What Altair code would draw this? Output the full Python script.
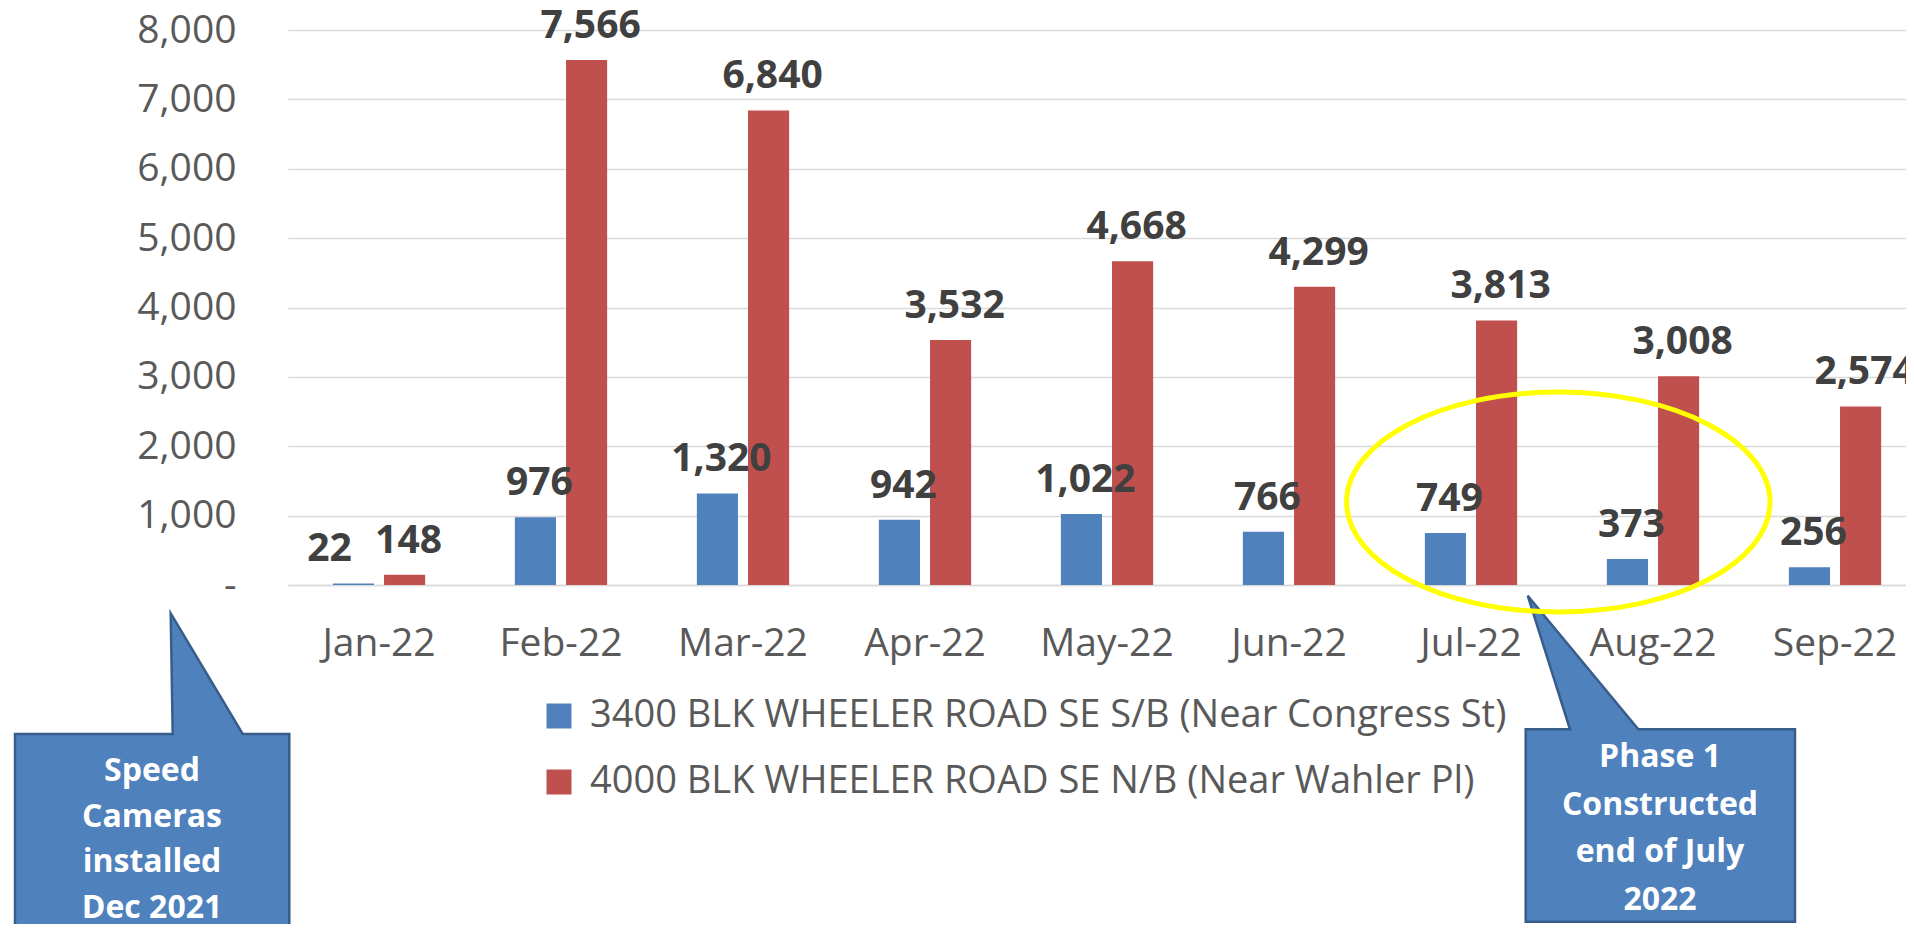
import altair as alt
import pandas as pd

# ---------------- data ----------------
months = ["Jan-22", "Feb-22", "Mar-22", "Apr-22", "May-22", "Jun-22", "Jul-22", "Aug-22", "Sep-22"]
series_names = [
    "3400 BLK WHEELER ROAD SE S/B (Near Congress St)",
    "4000 BLK WHEELER ROAD SE N/B (Near Wahler Pl)",
]
congress_st = [22, 976, 1320, 942, 1022, 766, 749, 373, 256]
wahler_pl = [148, 7566, 6840, 3532, 4668, 4299, 3813, 3008, 2574]
series_colors = ["#4F81BD", "#C0504D"]
y_ticks = [0, 1000, 2000, 3000, 4000, 5000, 6000, 7000, 8000]

left_note = ["Speed", "Cameras", "installed", "Dec 2021"]
right_note = ["Phase 1", "Constructed", "end of July", "2022"]

rows = []
for m, a, b in zip(months, congress_st, wahler_pl):
    rows.append({"month": m, "series": series_names[0], "value": a})
    rows.append({"month": m, "series": series_names[1], "value": b})
df = pd.DataFrame(rows)
one = pd.DataFrame({"k": [0]})

FONT = "Open Sans"
AXIS_GREY = "#595959"
GRID = "#D9D9D9"

x_enc = alt.X(
    "month:N",
    sort=months,
    scale=alt.Scale(range=[0, 1638], paddingInner=0.493, paddingOuter=0.2465),
    axis=alt.Axis(
        title=None, labelFontSize=39, labelColor=AXIS_GREY, labelFont=FONT,
        labelPadding=70, labelBaseline="alphabetic", labelAngle=0, ticks=False,
        domainColor=GRID, domainWidth=1.5, grid=False,
    ),
)
xoff = alt.XOffset("series:N", sort=series_names,
                   scale=alt.Scale(paddingInner=0.196, paddingOuter=0))
y_enc = alt.Y(
    "value:Q",
    scale=alt.Scale(domain=[0, 8000], nice=False),
    axis=alt.Axis(
        title=None, values=y_ticks,
        labelExpr="datum.value == 0 ? '-\u00a0\u00a0' : format(datum.value, ',')",
        labelFontSize=39, labelColor=AXIS_GREY, labelFont=FONT, labelPadding=52,
        ticks=False, domain=False, grid=True, gridColor=GRID, gridWidth=1.3,
    ),
)

bars = alt.Chart(df).mark_bar().encode(
    x=x_enc,
    xOffset=xoff,
    y=y_enc,
    color=alt.Color(
        "series:N",
        sort=series_names,
        scale=alt.Scale(domain=series_names, range=series_colors),
        legend=alt.Legend(
            title=None, orient="none", legendX=252, legendY=667, direction="vertical",
            symbolType="square", symbolSize=625, symbolStrokeWidth=0, symbolOpacity=1,
            labelFontSize=38, labelFont=FONT, labelColor=AXIS_GREY, labelOffset=12,
            labelLimit=2000, rowPadding=28, padding=0,
        ),
    ),
)

label_style = dict(font=FONT, fontWeight="bold", fontSize=39, color="#404040",
                   baseline="alphabetic", align="center", dy=-22)
first_label = (alt.datum.month == months[0]) & (alt.datum.series == series_names[0])

labels = alt.Chart(df).transform_filter(~first_label).mark_text(dx=4, **label_style).encode(
    x=x_enc, xOffset=xoff, y=y_enc, text=alt.Text("value:Q", format=","),
)
# the January label of the first series sits left of its bar in the original
labels_jan = alt.Chart(df).transform_filter(first_label).mark_text(dx=-24, **label_style).encode(
    x=x_enc, xOffset=xoff, y=y_enc, text=alt.Text("value:Q", format=","),
)

# callout shapes (custom symbol paths, size=4 -> 1 path unit = 1 px)
left_path = "M0,0 L157.7,0 L155.7,-120.7 L227.7,0 L274.3,0 L274.3,300 L0,300 Z"
right_path = "M0,0 L44.3,0 L2,-133.6 L112.6,0 L269.3,0 L269.3,192.4 L0,192.4 Z"
ellipse_path = "M-211.7,0 A211.7,110 0 1,1 211.7,0 A211.7,110 0 1,1 -211.7,0 Z"

left_box = alt.Chart(one).mark_point(
    shape=left_path, size=4, filled=True, fill="#4F81BD", stroke="#385D8A",
    strokeWidth=2.5, opacity=1, fillOpacity=1, strokeJoin="miter",
).encode(x=alt.value(-273), y=alt.value(704))

right_box = alt.Chart(one).mark_point(
    shape=right_path, size=4, filled=True, fill="#4F81BD", stroke="#385D8A",
    strokeWidth=2.5, opacity=1, fillOpacity=1, strokeJoin="miter",
).encode(x=alt.value(1237.7), y=alt.value(699.3))

left_text = alt.Chart(one).mark_text(
    text=left_note, lineHeight=45.5, font=FONT, fontWeight="bold", fontSize=32,
    color="white", align="center", baseline="alphabetic",
).encode(x=alt.value(-136), y=alt.value(751))

right_text = alt.Chart(one).mark_text(
    text=right_note, lineHeight=47.5, font=FONT, fontWeight="bold", fontSize=32,
    color="white", align="center", baseline="alphabetic",
).encode(x=alt.value(1372), y=alt.value(737.3))

ellipse = alt.Chart(one).mark_point(
    shape=ellipse_path, size=4, filled=False, stroke="#FFFF00", strokeWidth=5, opacity=1,
).encode(x=alt.value(1270.3), y=alt.value(472))

chart = alt.layer(
    bars, labels, labels_jan, left_box, right_box, left_text, right_text, ellipse
).properties(
    width=1618,
    height=555,
    padding={"left": 280, "top": 22, "right": 0, "bottom": 339},
    autosize=alt.AutoSizeParams(type="none"),
).configure(
    font=FONT
).configure_view(
    stroke=None, strokeWidth=0
).configure_axisY(
    domain=False, ticks=False
).configure_axisX(
    grid=False, ticks=False
)

chart.save("out.html", embed_options={"renderer": "svg", "actions": False})
